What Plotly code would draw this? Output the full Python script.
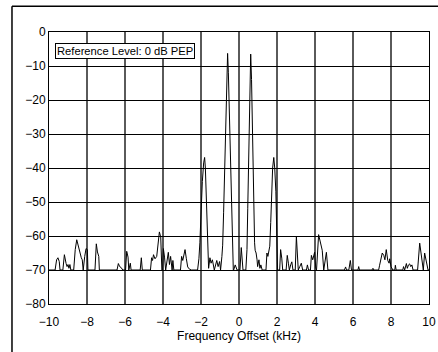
import plotly.graph_objects as go

# Spectrum trace (frequency offset in kHz, level in dB)
freq_khz = [
    -10.0, -9.68, -9.6, -9.53, -9.46, -9.42, -9.27, -9.19, -9.1, -9.05, -9.0, -8.95, -8.9, -8.85,
    -8.7, -8.62, -8.54, -8.45, -8.36, -8.3, -8.25, -8.2, -8.12, -8.05, -7.98, -7.95,
    -7.58, -7.51, -7.45, -7.38, -7.35, -6.42, -6.35, -6.28, -6.2, -6.12,
    -5.97, -5.91, -5.84, -5.8, -5.72, -5.68, -5.2, -5.14, -5.09,
    -4.66, -4.6, -4.55, -4.5, -4.42, -4.33, -4.19, -4.12, -4.06, -4.02, -3.98, -3.92, -3.86,
    -3.72, -3.66, -3.6, -3.52, -3.48, -3.43, -3.08, -3.02, -2.96, -2.84, -2.77, -2.7, -2.6, -2.5,
    -2.18, -2.11, -2.06, -2.0, -1.93, -1.86, -1.81, -1.77, -1.73, -1.69, -1.65, -1.6,
    -1.53, -1.47, -1.4, -1.3, -1.17, -1.1, -1.02, -0.97,
    -0.9, -0.86, -0.81, -0.75, -0.70, -0.65, -0.6, -0.56, -0.5, -0.44, -0.40, -0.37, -0.33, -0.30,
    -0.28, -0.2, -0.1, 0.05, 0.12, 0.17, 0.21, 0.36, 0.42,
    0.46, 0.50, 0.54, 0.58, 0.615, 0.66, 0.70, 0.74, 0.78, 0.82, 0.85, 0.9, 0.95, 0.98,
    1.05, 1.1, 1.15, 1.22, 1.42, 1.47, 1.52, 1.56, 1.62, 1.67, 1.72, 1.77, 1.83, 1.88, 1.94, 1.99, 2.03,
    2.14, 2.19, 2.25, 2.3, 2.48, 2.54, 2.6, 2.65, 2.72, 2.78, 2.84, 2.96, 3.02, 3.08, 3.12,
    3.2, 3.28, 3.35, 3.55, 3.6, 3.66, 3.76, 3.81, 3.88, 3.98, 4.04, 4.08, 4.19, 4.3, 4.38, 4.46,
    4.52, 4.6, 4.68, 5.55, 5.61, 5.66, 5.78, 5.86, 5.92, 6.26, 6.3, 6.34, 7.0, 7.05, 7.1,
    7.35, 7.40, 7.48, 7.54, 7.62, 7.68, 7.75, 7.83, 7.9, 7.93, 8.0, 8.1, 8.2, 8.23, 8.27,
    8.62, 8.66, 8.72, 8.81, 8.86, 8.92, 8.98, 9.04, 9.1, 9.16, 9.4, 9.51, 9.58, 9.64, 9.7,
    9.77, 9.83, 9.9, 9.95, 10.0,
]
level_db = [
    -70, -70, -67, -66.4, -67.5, -70, -70, -65.5, -68.1, -69, -68.4, -69.5, -68.4, -70,
    -70, -64, -61.1, -63.2, -65.7, -66.4, -67, -70, -66, -63.7, -64, -70,
    -70, -62.3, -64.7, -66, -70, -70, -68.1, -69, -69.3, -70,
    -70, -64.5, -66.2, -70, -68, -70, -70, -66.4, -70,
    -70, -66.4, -67.2, -65.5, -66.7, -66, -58.8, -60.3, -70, -70, -63.7, -66.2, -70,
    -64.8, -68.4, -66, -70, -67.2, -70, -70, -66, -67.2, -64, -66.7, -69.1, -69.8, -70,
    -70, -66.7, -62, -52, -44, -38.5, -36.9, -40, -48, -57, -67, -69.5,
    -66.4, -68, -67, -70, -67.2, -69, -67.5, -70,
    -66, -62.7, -53, -41, -26, -14, -6.3, -12, -26, -41, -52, -60, -66, -70,
    -70, -68.5, -70, -70, -63.4, -66, -70, -70, -64,
    -52, -40, -26, -13, -6.5, -14, -28, -40, -52, -62, -64.2, -65, -67, -69,
    -67, -69.5, -68.5, -70, -70, -65, -66, -64.7, -63, -56, -48, -40, -36.9, -40, -47, -57, -70,
    -70, -64, -66.5, -70, -70, -65.7, -68, -70, -68.5, -67.6, -70, -70, -60.1, -67.2, -70,
    -69, -68, -70, -70, -68.5, -70, -70, -65.7, -67, -64.8, -69.5, -70, -59.6, -61.8, -64.2, -70,
    -67, -64.8, -70, -70, -69.1, -70, -70, -67.2, -70, -70, -69, -70, -70, -69.5, -70,
    -70, -68.6, -66, -65, -65.7, -67, -64, -67.2, -68, -66.7, -69, -70, -70, -68.6, -70,
    -70, -69, -70, -68.1, -69.5, -68.5, -68.2, -69, -68.5, -70, -70, -62.1, -65, -69, -70,
    -65, -66.7, -69, -70, -70,
]

x_ticks = [-10, -8, -6, -4, -2, 0, 2, 4, 6, 8, 10]
y_ticks = [0, -10, -20, -30, -40, -50, -60, -70, -80]
x_title = "Frequency Offset (kHz)"
ref_label = "Reference Level: 0 dB PEP"

FONT = "Liberation Sans, Arial, Helvetica, sans-serif"

fig = go.Figure()
fig.add_trace(go.Scatter(
    x=freq_khz, y=level_db, mode="lines",
    line=dict(color="black", width=1),
    hoverinfo="skip", showlegend=False,
))

fig.update_layout(
    width=438, height=352,
    margin=dict(l=49, r=9, t=32, b=48, autoexpand=False),
    paper_bgcolor="white", plot_bgcolor="white",
    font=dict(family=FONT, size=12, color="black"),
    showlegend=False,
)
fig.update_xaxes(
    range=[-10, 10], tickvals=x_ticks, ticktext=[str(v).replace("-", "\u2212") for v in x_ticks],
    showgrid=True, gridcolor="#5a5a5a", gridwidth=1.5, zeroline=False,
    showline=True, linecolor="black", linewidth=1, mirror=True,
    ticks="", ticklabelstandoff=7, automargin=False,
    title=dict(text=x_title, standoff=0, font=dict(size=12)),
    tickfont=dict(size=12),
)
fig.update_yaxes(
    range=[-80, 0], tickvals=y_ticks, ticktext=[str(v).replace("-", "\u2212") for v in y_ticks],
    showgrid=True, gridcolor="black", gridwidth=1, zeroline=False,
    showline=True, linecolor="black", linewidth=1, mirror=True,
    ticks="", ticklabelstandoff=0, automargin=False,
    tickfont=dict(size=12),
)

fig.add_annotation(
    xref="paper", yref="paper", x=0.0158, y=0.958, xanchor="left", yanchor="top",
    text=ref_label, showarrow=False, font=dict(family=FONT, size=11.2, color="black"),
    bgcolor="white", bordercolor="black", borderwidth=1, borderpad=1,
)

# outer frame (top and left edges visible in the reference)
fig.add_shape(
    type="line", xref="paper", yref="paper",
    x0=-0.0974, y0=1.0947, x1=1.1, y1=1.0947,
    line=dict(color="black", width=1.5),
)
fig.add_shape(
    type="line", xref="paper", yref="paper",
    x0=-0.0974, y0=-0.4, x1=-0.0974, y1=1.0947,
    line=dict(color="black", width=1.5),
)

fig.write_html(
    "out.html",
    config={"displayModeBar": False},
    post_script=(
        "document.body.style.margin='0';"
        "document.body.style.overflow='hidden';"
        "document.documentElement.style.overflow='hidden';"
    ),
)
